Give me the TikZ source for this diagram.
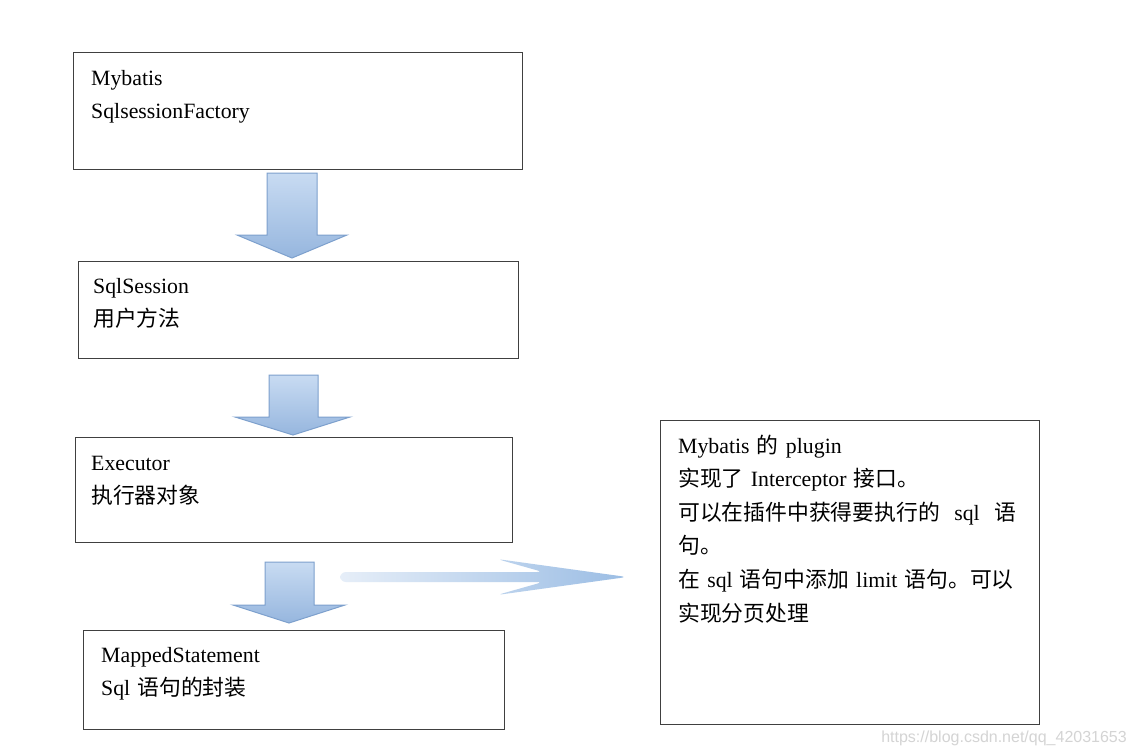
\documentclass[tikz,border=0pt]{standalone}
\usepackage{fontspec}
\setmainfont{Liberation Serif}
\newfontfamily\cjk{Noto Sans CJK SC}
\newfontfamily\urlfont{Liberation Sans}
\usetikzlibrary{positioning}

\definecolor{boxline}{RGB}{64,64,64}
\definecolor{arrowedge}{RGB}{125,160,205}
\definecolor{arrowtop}{RGB}{200,219,242}
\definecolor{arrowbot}{RGB}{150,182,222}
\definecolor{flatleft}{RGB}{230,238,248}
\definecolor{flatright}{RGB}{155,189,228}
\definecolor{markgray}{RGB}{212,212,212}

\begin{document}
\begin{tikzpicture}[
    x=1pt, y=-1pt,
    box/.style={draw=boxline, line width=1.2pt, inner sep=0pt, anchor=north west},
    boxtext/.style={align=left, inner sep=0pt, text width=350pt, font=\fontsize{21.8}{33.6}\selectfont},
    blockarrow/.style={draw=arrowedge, line width=1pt, top color=arrowtop, bottom color=arrowbot},
    flatarrow/.style={left color=flatleft, right color=flatright, rounded corners=6pt}
]

\useasboundingbox[fill=white] (0,0) rectangle (1135,753);

% boxes
\node[box, minimum width=449pt, minimum height=117pt] (factory) at (73,52) {};
\node[box, minimum width=440pt, minimum height=97pt] (session) at (78,261) {};
\node[box, minimum width=437pt, minimum height=105pt] (executor) at (75,437) {};
\node[box, minimum width=421pt, minimum height=99pt] (mapped) at (83,630) {};
\node[box, minimum width=379pt, minimum height=304pt] (plugin) at (660,420) {};

% texts
\node[boxtext, below right=33pt and 18pt of factory.north west, anchor=base west] (factorytext)
    {Mybatis\\SqlsessionFactory};
\node[boxtext, below right=32pt and 15pt of session.north west, anchor=base west] (sessiontext)
    {SqlSession\\{\cjk 用户方法}};
\node[boxtext, below right=33pt and 16pt of executor.north west, anchor=base west] (executortext)
    {Executor\\{\cjk 执行器对象}};
\node[boxtext, below right=32pt and 18pt of mapped.north west, anchor=base west] (mappedtext)
    {MappedStatement\\Sql {\cjk 语句的封装}};
\node[boxtext, below right=33pt and 18pt of plugin.north west, anchor=base west] (plugintext)
    {Mybatis {\cjk 的} plugin\\
     {\cjk 实现了} Interceptor {\cjk 接口。}\\
     {\cjk 可以在插件中获得要执行的}\ \ sql\ \ {\cjk 语}\\
     {\cjk 句。}\\
     {\cjk 在} sql {\cjk 语句中添加} limit {\cjk 语句。可以}\\
     {\cjk 实现分页处理}};

% block arrows
\path[blockarrow] (267,173) -- (317,173) -- (317,235) -- (347,235) -- (292,258)
    -- (237,235) -- (267,235) -- cycle;
\path[blockarrow] (269,375) -- (318,375) -- (318,417) -- (350,417) -- (293,435)
    -- (235,417) -- (269,417) -- cycle;
\path[blockarrow] (265,562) -- (314,562) -- (314,605) -- (345,605) -- (289,623)
    -- (233,605) -- (265,605) -- cycle;

\path[flatarrow] (340,572) -- (543,572) -- (497,559) -- (627,577) -- (497,595)
    -- (543,582) -- (340,582) -- cycle;

\node[anchor=base east, inner sep=0pt, text=markgray, font=\urlfont\fontsize{16}{16}\selectfont] (mark)
    at (1127,742) {https://blog.csdn.net/qq\_42031653};

\end{tikzpicture}
\end{document}
